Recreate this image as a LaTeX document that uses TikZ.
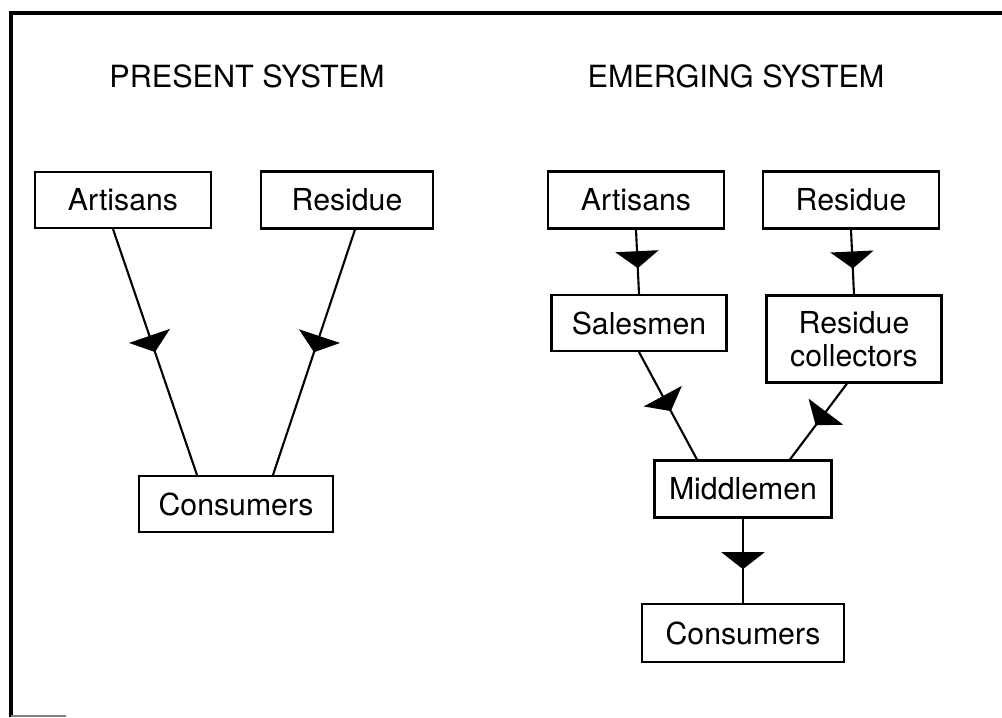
\documentclass[tikz,border=0pt]{standalone}
\usepackage{fontspec}
\setmainfont{TeX Gyre Heros}
\usetikzlibrary{arrows.meta,decorations.markings}

\begin{document}
\begin{tikzpicture}[x=0.01cm,y=-0.01cm,
  box/.style={draw,line width=0.6pt,inner sep=0pt,align=center,font=\fontsize{8.6}{9.4}\selectfont},
  heading/.style={font=\fontsize{8.7}{10}\selectfont},
  flow/.style={line width=0.6pt,postaction={decorate},
    decoration={markings,mark=at position #1 with {\arrow{Triangle[width=0.43cm,length=0.17cm]}}}},
  flow/.default=0.55]
\useasboundingbox (0,0) rectangle (1002,717);
%\draw[step=50,gray,very thin] (0,0) grid (1002,717); %background grid

% frame
\draw[line width=1.1pt] (11,717) -- (11,13) -- (1002,13);
\draw[gray,line width=0.5pt] (11,716) -- (66,716);

\node[heading] (tpres) at (247,76) {PRESENT SYSTEM};
\node[heading] (temer) at (736,76) {EMERGING SYSTEM};

% present system
\node[box,minimum width=1.76cm,minimum height=0.56cm] (art1) at (123,200) {Artisans};
\node[box,minimum width=1.72cm,minimum height=0.57cm] (res1) at (347,200) {Residue};
\node[box,minimum width=1.94cm,minimum height=0.56cm] (con1) at (236,504) {Consumers};

\draw[flow=0.5] ([xshift=-0.1cm]art1.south) -- ([xshift=-0.39cm]con1.north);
\draw[flow=0.5] ([xshift=0.08cm]res1.south) -- ([xshift=0.37cm]con1.north);

% emerging system
\node[box,minimum width=1.76cm,minimum height=0.57cm] (art2) at (636,200) {Artisans};
\node[box,minimum width=1.76cm,minimum height=0.57cm] (res2) at (851,200) {Residue};
\node[box,minimum width=1.75cm,minimum height=0.56cm] (sal) at (639,323) {Salesmen};
\node[box,minimum width=1.75cm,minimum height=0.87cm] (col) at (854,339) {Residue\\collectors};
\node[box,minimum width=1.77cm,minimum height=0.57cm] (mid) at (743,489) {Middlemen};
\node[box,minimum width=2.01cm,minimum height=0.58cm] (con2) at (743,633) {Consumers};

\draw[flow=0.6] (art2.south) -- (sal.north);
\draw[flow=0.6] (res2.south) -- (col.north);
\draw[flow] (sal.south) -- ([xshift=-0.46cm]mid.north);
\draw[flow] ([xshift=-0.07cm]col.south) -- ([xshift=0.47cm]mid.north);
\draw[flow=0.6] (mid.south) -- (con2.north);
\end{tikzpicture}
\end{document}
